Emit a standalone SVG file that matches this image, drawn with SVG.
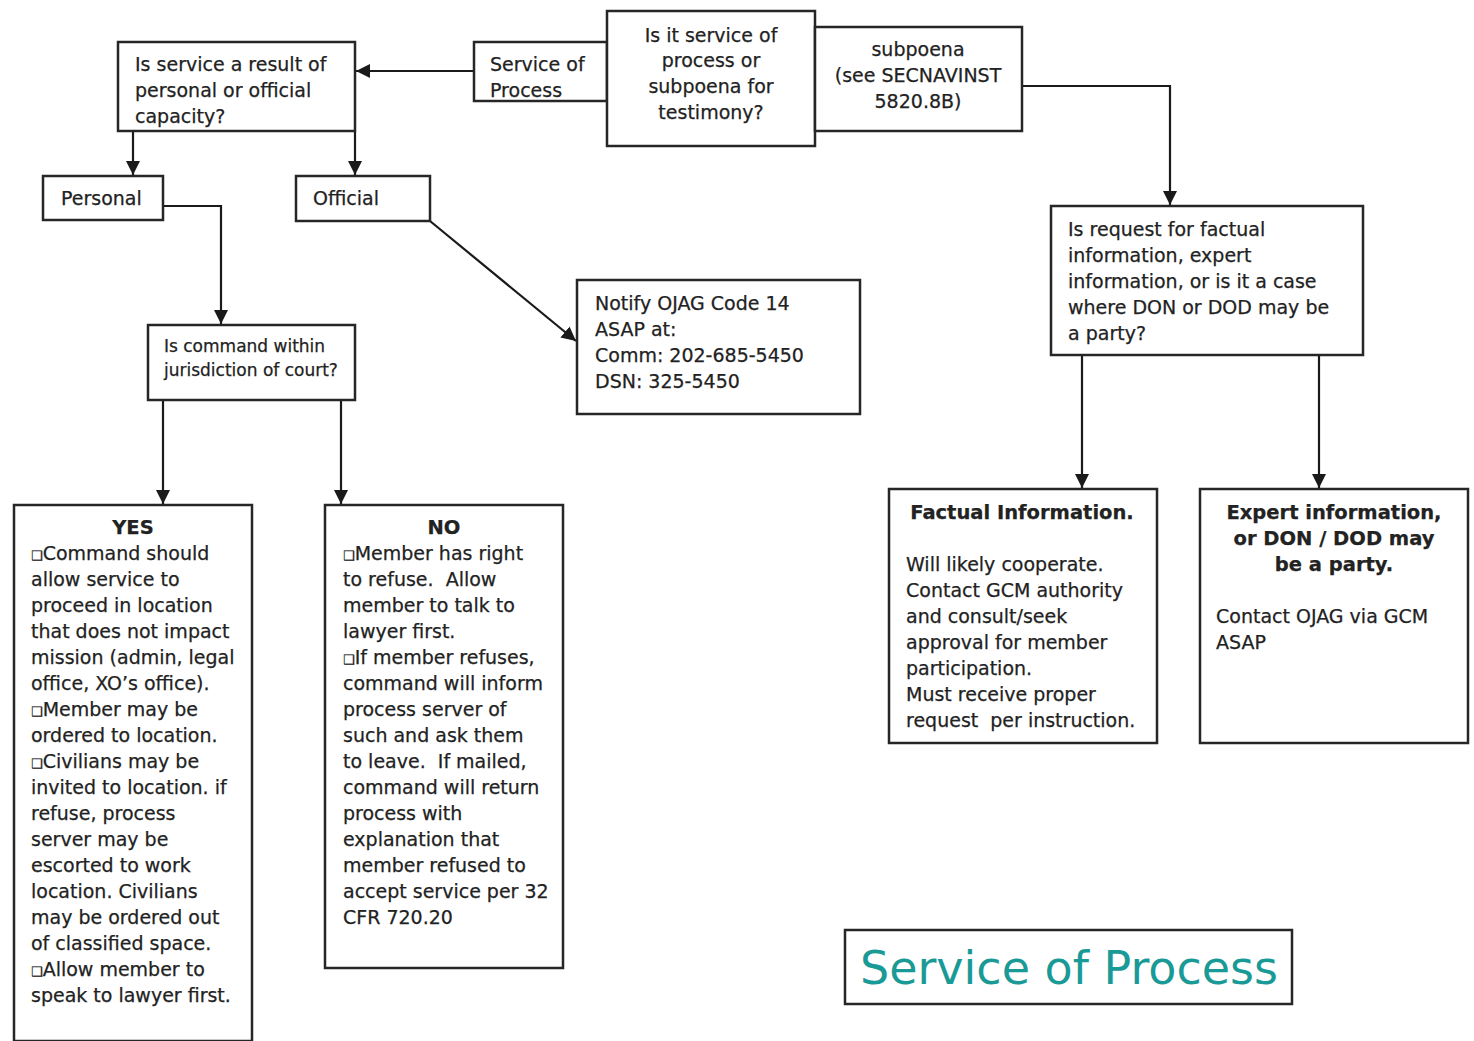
<svg xmlns="http://www.w3.org/2000/svg" width="1474" height="1041" viewBox="0 0 1474 1041">
<style>
  .box { fill: #fff; stroke: #262626; stroke-width: 2.5; }
  .t { font-family: "DejaVu Sans", Verdana, sans-serif; font-size: 19px; fill: #222; stroke: #222; stroke-width: 0.25; }
  .s { font-size: 17px; }
  .b { font-weight: bold; font-size: 19.5px; }
  .c { text-anchor: middle; }
  .bul { font-size: 13px; }
  .conn { fill: none; stroke: #1a1a1a; stroke-width: 2.2; }
  .title { font-family: "DejaVu Sans", Verdana, sans-serif; font-size: 46px; fill: #1a9a96; text-anchor: middle; }
</style>
<defs>
  <marker id="arr" viewBox="0 0 10 10" refX="10" refY="5" markerWidth="6.5" markerHeight="6.5" markerUnits="strokeWidth" orient="auto">
    <path d="M0,0 L10,5 L0,10 z" fill="#1a1a1a"/>
  </marker>
</defs>
<rect width="1474" height="1041" fill="#fff"/>

<g id="connectors">
  <line class="conn" x1="474" y1="71" x2="356" y2="71" marker-end="url(#arr)"/>
  <polyline class="conn" points="1022,86 1170,86 1170,205" marker-end="url(#arr)"/>
  <line class="conn" x1="133" y1="131" x2="133" y2="175" marker-end="url(#arr)"/>
  <line class="conn" x1="355" y1="131" x2="355" y2="175" marker-end="url(#arr)"/>
  <polyline class="conn" points="163,206 221,206 221,324" marker-end="url(#arr)"/>
  <line class="conn" x1="430" y1="221" x2="576" y2="341" marker-end="url(#arr)"/>
  <line class="conn" x1="163" y1="400" x2="163" y2="504" marker-end="url(#arr)"/>
  <line class="conn" x1="341" y1="400" x2="341" y2="504" marker-end="url(#arr)"/>
  <line class="conn" x1="1082" y1="355" x2="1082" y2="488" marker-end="url(#arr)"/>
  <line class="conn" x1="1319" y1="355" x2="1319" y2="488" marker-end="url(#arr)"/>
</g>

<g id="capacity">
  <rect class="box" x="118" y="42" width="237" height="89"/>
  <text class="t" x="135" y="71">Is service a result of</text>
  <text class="t" x="135" y="97">personal or official</text>
  <text class="t" x="135" y="123">capacity?</text>
</g>

<g id="service-of-process">
  <rect class="box" x="474" y="42" width="133" height="59"/>
  <text class="t" x="490" y="71">Service of</text>
  <text class="t" x="490" y="97">Process</text>
</g>

<g id="start">
  <rect class="box" x="607" y="11" width="208" height="135"/>
  <text class="t c" x="711" y="42">Is it service of</text>
  <text class="t c" x="711" y="67">process or</text>
  <text class="t c" x="711" y="93">subpoena for</text>
  <text class="t c" x="711" y="119">testimony?</text>
</g>

<g id="subpoena">
  <rect class="box" x="815" y="27" width="207" height="104"/>
  <text class="t c" x="918" y="56">subpoena</text>
  <text class="t c" x="918" y="82">(see SECNAVINST</text>
  <text class="t c" x="918" y="108">5820.8B)</text>
</g>

<g id="personal">
  <rect class="box" x="43" y="176" width="120" height="44"/>
  <text class="t" x="61" y="205">Personal</text>
</g>

<g id="official">
  <rect class="box" x="296" y="176" width="134" height="45"/>
  <text class="t" x="313" y="205">Official</text>
</g>

<g id="jurisdiction">
  <rect class="box" x="148" y="325" width="207" height="75"/>
  <text class="t s" x="164" y="352">Is command within</text>
  <text class="t s" x="164" y="376">jurisdiction of court?</text>
</g>

<g id="notify">
  <rect class="box" x="577" y="280" width="283" height="134"/>
  <text class="t" x="595" y="310">Notify OJAG Code 14</text>
  <text class="t" x="595" y="336">ASAP at:</text>
  <text class="t" x="595" y="362">Comm: 202-685-5450</text>
  <text class="t" x="595" y="388">DSN: 325-5450</text>
</g>

<g id="request-type">
  <rect class="box" x="1051" y="206" width="312" height="149"/>
  <text class="t" x="1068" y="236">Is request for factual</text>
  <text class="t" x="1068" y="262">information, expert</text>
  <text class="t" x="1068" y="288">information, or is it a case</text>
  <text class="t" x="1068" y="314">where DON or DOD may be</text>
  <text class="t" x="1068" y="340">a party?</text>
</g>

<g id="yes">
  <rect class="box" x="14" y="505" width="238" height="536"/>
  <text class="t b c" x="133" y="534">YES</text>
  <text class="t" x="31" y="560"><tspan class="bul">❑</tspan>Command should</text>
  <text class="t" x="31" y="586">allow service to</text>
  <text class="t" x="31" y="612">proceed in location</text>
  <text class="t" x="31" y="638">that does not impact</text>
  <text class="t" x="31" y="664">mission (admin, legal</text>
  <text class="t" x="31" y="690">office, XO’s office).</text>
  <text class="t" x="31" y="716"><tspan class="bul">❑</tspan>Member may be</text>
  <text class="t" x="31" y="742">ordered to location.</text>
  <text class="t" x="31" y="768"><tspan class="bul">❑</tspan>Civilians may be</text>
  <text class="t" x="31" y="794">invited to location. if</text>
  <text class="t" x="31" y="820">refuse, process</text>
  <text class="t" x="31" y="846">server may be</text>
  <text class="t" x="31" y="872">escorted to work</text>
  <text class="t" x="31" y="898">location. Civilians</text>
  <text class="t" x="31" y="924">may be ordered out</text>
  <text class="t" x="31" y="950">of classified space.</text>
  <text class="t" x="31" y="976"><tspan class="bul">❑</tspan>Allow member to</text>
  <text class="t" x="31" y="1002">speak to lawyer first.</text>
</g>

<g id="no">
  <rect class="box" x="325" y="505" width="238" height="463"/>
  <text class="t b c" x="444" y="534">NO</text>
  <text class="t" x="343" y="560"><tspan class="bul">❑</tspan>Member has right</text>
  <text class="t" x="343" y="586" xml:space="preserve">to refuse.  Allow</text>
  <text class="t" x="343" y="612">member to talk to</text>
  <text class="t" x="343" y="638">lawyer first.</text>
  <text class="t" x="343" y="664"><tspan class="bul">❑</tspan>If member refuses,</text>
  <text class="t" x="343" y="690">command will inform</text>
  <text class="t" x="343" y="716">process server of</text>
  <text class="t" x="343" y="742">such and ask them</text>
  <text class="t" x="343" y="768" xml:space="preserve">to leave.  If mailed,</text>
  <text class="t" x="343" y="794">command will return</text>
  <text class="t" x="343" y="820">process with</text>
  <text class="t" x="343" y="846">explanation that</text>
  <text class="t" x="343" y="872">member refused to</text>
  <text class="t" x="343" y="898">accept service per 32</text>
  <text class="t" x="343" y="924">CFR 720.20</text>
</g>

<g id="factual">
  <rect class="box" x="889" y="489" width="268" height="254"/>
  <text class="t b c" x="1022" y="519">Factual Information.</text>
  <text class="t" x="906" y="571">Will likely cooperate.</text>
  <text class="t" x="906" y="597">Contact GCM authority</text>
  <text class="t" x="906" y="623">and consult/seek</text>
  <text class="t" x="906" y="649">approval for member</text>
  <text class="t" x="906" y="675">participation.</text>
  <text class="t" x="906" y="701">Must receive proper</text>
  <text class="t" x="906" y="727" xml:space="preserve">request  per instruction.</text>
</g>

<g id="expert">
  <rect class="box" x="1200" y="489" width="268" height="254"/>
  <text class="t b c" x="1334" y="519">Expert information,</text>
  <text class="t b c" x="1334" y="545">or DON / DOD may</text>
  <text class="t b c" x="1334" y="571">be a party.</text>
  <text class="t" x="1216" y="623">Contact OJAG via GCM</text>
  <text class="t" x="1216" y="649">ASAP</text>
</g>

<g id="title">
  <rect class="box" x="845" y="930" width="447" height="74"/>
  <text class="title" x="1069" y="984">Service of Process</text>
</g>
</svg>
